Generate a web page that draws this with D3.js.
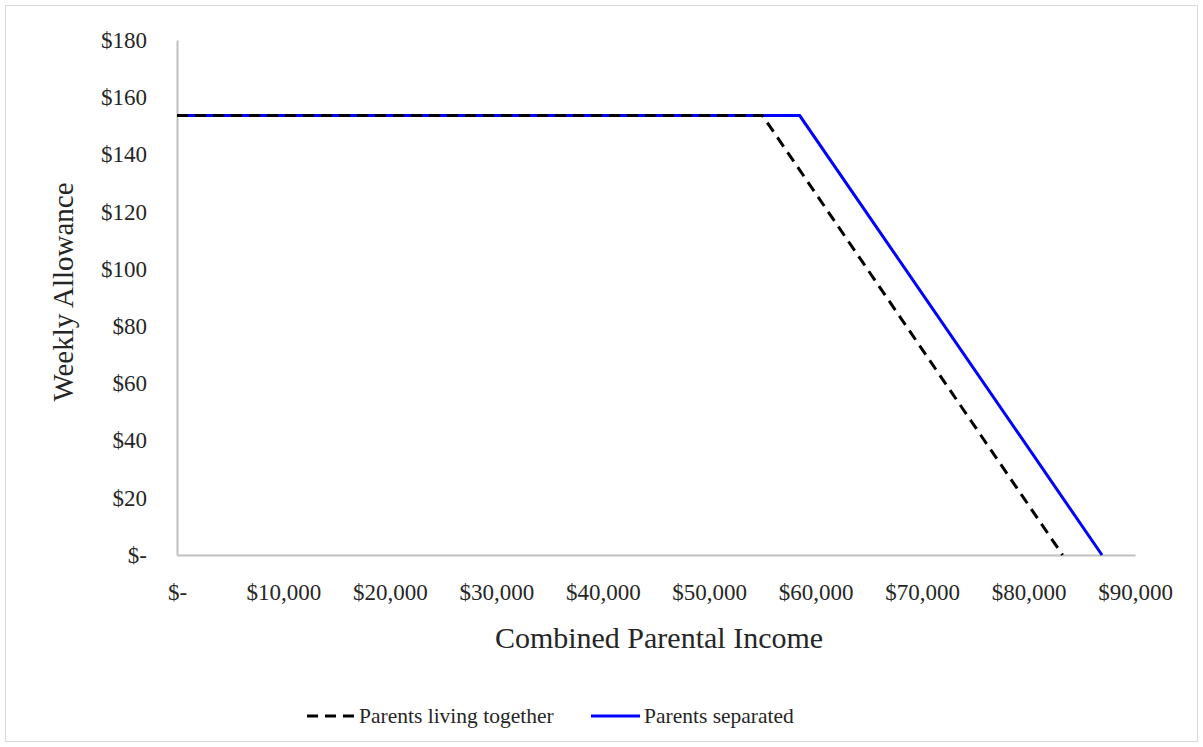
<!DOCTYPE html>
<html>
<head>
<meta charset="utf-8">
<script src="https://cdn.jsdelivr.net/npm/d3@7"></script>
<style>
  html, body { margin: 0; padding: 0; background: #fff; }
  svg text { font-family: "Liberation Serif", "DejaVu Serif", serif; fill: #262626; }
</style>
</head>
<body>
<svg id="chart" width="1203" height="747"></svg>
<script>
// Weekly allowance by combined parental income
const xTicks = [0, 10000, 20000, 30000, 40000, 50000, 60000, 70000, 80000, 90000];
const yTicks = [0, 20, 40, 60, 80, 100, 120, 140, 160, 180];

const togetherIncome = [0, 55000, 83200];
const togetherAllowance = [153.6, 153.6, 0];

const separatedIncome = [0, 58500, 86900];
const separatedAllowance = [153.6, 153.6, 0];

const seriesNames = ["Parents living together", "Parents separated"];

const svg = d3.select("#chart");
const W = 1203, H = 747;

// outer frame
svg.append("rect").attr("x", 5.5).attr("y", 5.5).attr("width", W - 11).attr("height", H - 11)
  .attr("fill", "#fff").attr("stroke", "#d9d9d9").attr("stroke-width", 1);

const x = d3.scaleLinear().domain([0, 90000]).range([177, 1135]);
const y = d3.scaleLinear().domain([0, 180]).range([555, 40]);

const money = v => v === 0 ? "$-" : "$" + d3.format(",")(v);

// y axis
const yAxis = svg.append("g").attr("transform", `translate(${x(0)},0)`)
  .call(d3.axisLeft(y).tickValues(yTicks).tickSize(0).tickPadding(30).tickFormat(money));
yAxis.select(".domain").attr("stroke", "#bfbfbf").attr("stroke-width", 2);
yAxis.selectAll("text").attr("font-size", 23).attr("fill", "#262626")
  .attr("font-family", "Liberation Serif, serif");

// x axis
const xAxis = svg.append("g").attr("transform", `translate(0,${y(0)})`)
  .call(d3.axisBottom(x).tickValues(xTicks).tickSize(0).tickPadding(28.5).tickFormat(money));
xAxis.select(".domain").attr("stroke", "#bfbfbf").attr("stroke-width", 2);
xAxis.selectAll("text").attr("font-size", 23).attr("fill", "#262626")
  .attr("font-family", "Liberation Serif, serif");

// axis titles
svg.append("text").attr("x", 659).attr("y", 648).attr("text-anchor", "middle")
  .attr("font-size", 30).text("Combined Parental Income");
svg.append("text").attr("transform", "translate(73,292) rotate(-90)").attr("text-anchor", "middle")
  .attr("font-size", 29).text("Weekly Allowance");

const line = d3.line().x(d => x(d[0])).y(d => y(d[1]));

svg.append("path")
  .datum(d3.zip(separatedIncome, separatedAllowance))
  .attr("d", line).attr("fill", "none").attr("stroke", "#0000ff").attr("stroke-width", 3);

svg.append("path")
  .datum(d3.zip(togetherIncome, togetherAllowance))
  .attr("d", line).attr("fill", "none").attr("stroke", "#000").attr("stroke-width", 3)
  .attr("stroke-dasharray", "11,7");

// legend
const lg = svg.append("g");
lg.append("line").attr("x1", 307).attr("x2", 355).attr("y1", 716).attr("y2", 716)
  .attr("stroke", "#000").attr("stroke-width", 3).attr("stroke-dasharray", "11,7");
lg.append("text").attr("x", 359).attr("y", 723).attr("font-size", 21.5).text(seriesNames[0]);
lg.append("line").attr("x1", 591).attr("x2", 640).attr("y1", 716).attr("y2", 716)
  .attr("stroke", "#0000ff").attr("stroke-width", 3);
lg.append("text").attr("x", 644).attr("y", 723).attr("font-size", 21.5).text(seriesNames[1]);
</script>
</body>
</html>
